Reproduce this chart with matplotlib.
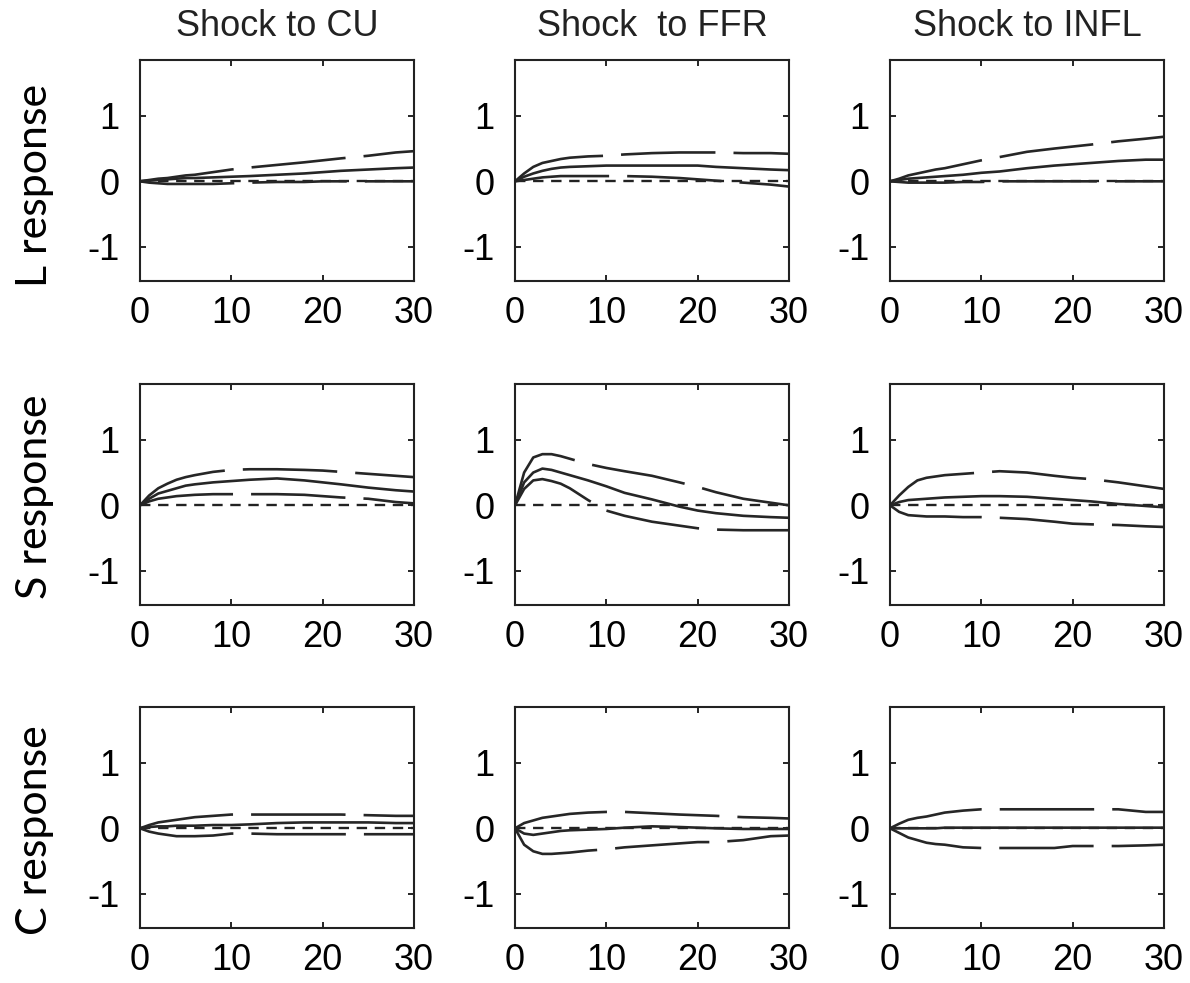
import matplotlib
matplotlib.use("Agg")
import matplotlib.pyplot as plt

plt.rcParams['axes.unicode_minus'] = False
plt.rcParams['lines.scale_dashes'] = False

horizon = [0, 1, 2, 3, 4, 5, 6, 8, 10, 12, 15, 18, 20, 22, 25, 28, 30]
shocks = ["Shock to CU", "Shock  to FFR", "Shock to INFL"]
responses = ["L response", "S response", "C response"]
x_ticks = [0, 10, 20, 30]
y_ticks = [-1, 0, 1]

# L response
L_CU_upper = [0, 0.02, 0.04, 0.05, 0.07, 0.09, 0.10, 0.14, 0.18, 0.21, 0.25, 0.29, 0.32, 0.35, 0.39, 0.44, 0.46]
L_CU_mid = [0, 0.01, 0.02, 0.03, 0.04, 0.05, 0.05, 0.06, 0.07, 0.08, 0.10, 0.12, 0.14, 0.16, 0.18, 0.20, 0.21]
L_CU_lower = [0, -0.02, -0.03, -0.04, -0.04, -0.04, -0.04, -0.04, -0.03, -0.02, -0.01, -0.01, 0, 0, 0, 0, 0]

L_FFR_upper = [0, 0.12, 0.22, 0.28, 0.31, 0.34, 0.36, 0.38, 0.39, 0.41, 0.43, 0.44, 0.44, 0.44, 0.43, 0.43, 0.42]
L_FFR_mid = [0, 0.07, 0.12, 0.16, 0.19, 0.21, 0.22, 0.23, 0.24, 0.24, 0.24, 0.24, 0.24, 0.22, 0.20, 0.18, 0.17]
L_FFR_lower = [0, 0.02, 0.04, 0.06, 0.07, 0.08, 0.08, 0.08, 0.08, 0.08, 0.07, 0.05, 0.03, 0.01, -0.02, -0.05, -0.08]

L_INFL_upper = [0, 0.04, 0.09, 0.12, 0.15, 0.18, 0.20, 0.26, 0.32, 0.37, 0.45, 0.50, 0.53, 0.56, 0.61, 0.65, 0.68]
L_INFL_mid = [0, 0.02, 0.04, 0.05, 0.06, 0.07, 0.08, 0.10, 0.13, 0.15, 0.20, 0.24, 0.26, 0.28, 0.31, 0.33, 0.33]
L_INFL_lower = [0, -0.01, -0.02, -0.02, -0.02, -0.02, -0.02, -0.01, -0.01, 0, 0, 0, 0, 0, 0, 0, 0]

# S response
S_CU_upper = [0, 0.15, 0.26, 0.33, 0.39, 0.43, 0.46, 0.51, 0.54, 0.55, 0.55, 0.54, 0.53, 0.51, 0.48, 0.45, 0.43]
S_CU_mid = [0, 0.10, 0.18, 0.22, 0.26, 0.30, 0.32, 0.35, 0.37, 0.39, 0.41, 0.38, 0.35, 0.32, 0.27, 0.23, 0.21]
S_CU_lower = [0, 0.06, 0.10, 0.12, 0.14, 0.15, 0.16, 0.17, 0.17, 0.17, 0.17, 0.16, 0.14, 0.12, 0.10, 0.05, 0.03]

S_FFR_upper = [0, 0.50, 0.73, 0.78, 0.78, 0.75, 0.71, 0.63, 0.57, 0.52, 0.45, 0.35, 0.28, 0.20, 0.10, 0.04, 0.0]
S_FFR_mid = [0, 0.35, 0.50, 0.56, 0.54, 0.50, 0.46, 0.38, 0.29, 0.19, 0.09, -0.02, -0.08, -0.12, -0.16, -0.18, -0.19]
S_FFR_lower = [0, 0.25, 0.38, 0.40, 0.37, 0.33, 0.26, 0.08, -0.08, -0.16, -0.25, -0.31, -0.35, -0.37, -0.38, -0.38, -0.38]

S_INFL_upper = [0, 0.15, 0.28, 0.38, 0.42, 0.44, 0.46, 0.48, 0.50, 0.52, 0.50, 0.45, 0.42, 0.40, 0.35, 0.29, 0.25]
S_INFL_mid = [0, 0.05, 0.08, 0.09, 0.10, 0.11, 0.12, 0.13, 0.14, 0.14, 0.13, 0.10, 0.08, 0.06, 0.02, -0.01, -0.03]
S_INFL_lower = [0, -0.10, -0.15, -0.16, -0.17, -0.17, -0.17, -0.18, -0.18, -0.19, -0.21, -0.25, -0.28, -0.29, -0.30, -0.32, -0.33]

# C response
C_CU_upper = [0, 0.05, 0.09, 0.11, 0.13, 0.15, 0.17, 0.19, 0.21, 0.21, 0.21, 0.21, 0.21, 0.21, 0.20, 0.19, 0.19]
C_CU_mid = [0, 0.02, 0.03, 0.03, 0.04, 0.04, 0.04, 0.05, 0.05, 0.06, 0.08, 0.09, 0.09, 0.09, 0.09, 0.08, 0.08]
C_CU_lower = [0, -0.05, -0.08, -0.10, -0.12, -0.12, -0.12, -0.11, -0.08, -0.08, -0.09, -0.09, -0.09, -0.09, -0.09, -0.09, -0.09]

C_FFR_upper = [0, 0.08, 0.12, 0.16, 0.18, 0.20, 0.22, 0.24, 0.25, 0.25, 0.23, 0.21, 0.20, 0.19, 0.17, 0.16, 0.15]
C_FFR_mid = [0, -0.08, -0.10, -0.08, -0.06, -0.04, -0.03, -0.02, -0.01, 0.01, 0.03, 0.02, 0.01, 0, -0.01, -0.01, -0.01]
C_FFR_lower = [0, -0.25, -0.35, -0.39, -0.39, -0.38, -0.37, -0.34, -0.32, -0.29, -0.26, -0.23, -0.21, -0.21, -0.18, -0.12, -0.11]

C_INFL_upper = [0, 0.07, 0.13, 0.16, 0.18, 0.21, 0.24, 0.27, 0.29, 0.29, 0.29, 0.29, 0.29, 0.29, 0.29, 0.25, 0.25]
C_INFL_mid = [0, 0, 0, 0, 0, 0, 0.01, 0.01, 0.01, 0.01, 0.01, 0.01, 0.01, 0.01, 0.01, 0.01, 0.01]
C_INFL_lower = [0, -0.07, -0.14, -0.18, -0.22, -0.24, -0.25, -0.29, -0.30, -0.30, -0.30, -0.30, -0.27, -0.27, -0.27, -0.26, -0.25]

panels = [
    [(L_CU_upper, L_CU_mid, L_CU_lower), (L_FFR_upper, L_FFR_mid, L_FFR_lower), (L_INFL_upper, L_INFL_mid, L_INFL_lower)],
    [(S_CU_upper, S_CU_mid, S_CU_lower), (S_FFR_upper, S_FFR_mid, S_FFR_lower), (S_INFL_upper, S_INFL_mid, S_INFL_lower)],
    [(C_CU_upper, C_CU_mid, C_CU_lower), (C_FFR_upper, C_FFR_mid, C_FFR_lower), (C_INFL_upper, C_INFL_mid, C_INFL_lower)],
]

W, H = 1190, 983
fig = plt.figure(figsize=(W / 100, H / 100), dpi=100)

col_left = [140, 515, 890]
ax_w = 274
row_top = [60, 384, 707]
ax_h = 221

tick_font = dict(family="Liberation Sans", size=26)
line_col = "#262626"

for r in range(3):
    for c in range(3):
        left = col_left[c] / W
        bottom = 1 - (row_top[r] + ax_h) / H
        ax = fig.add_axes([left, bottom, ax_w / W, ax_h / H])
        upper, mid, lower = panels[r][c]
        ax.plot([horizon[0], horizon[-1]], [0, 0], color="#222222", lw=1.7,
                dashes=(7.5, 5.5))
        ax.plot(horizon, upper, color=line_col, lw=1.9, dashes=(68, 13))
        ax.plot(horizon, lower, color=line_col, lw=1.9, dashes=(68, 13))
        ax.plot(horizon, mid, color=line_col, lw=1.9)
        ax.set_xlim(0, 30)
        ax.set_ylim(-1.52, 1.85)
        ax.set_xticks(x_ticks)
        ax.set_yticks(y_ticks)
        ax.set_xticklabels([str(v) for v in x_ticks], fontdict=tick_font)
        ax.set_yticklabels([str(v) for v in y_ticks], fontdict=tick_font)
        ax.tick_params(direction="in", length=4, width=1.2, top=True, right=True,
                       colors="black", pad=11)
        ax.tick_params(axis="y", pad=15)
        for s in ax.spines.values():
            s.set_linewidth(1.5)
            s.set_color("#222222")
        if r == 0:
            ax.set_title(shocks[c], fontdict=dict(family="Liberation Sans", size=26),
                         pad=17, color="#222222")

label_y = [185, 497, 830]
for r in range(3):
    fig.text(35 / W, 1 - label_y[r] / H, responses[r], rotation=90,
             ha="center", va="center", family="Lato", fontsize=31, color="black")

fig.savefig("out.png", dpi=100)
